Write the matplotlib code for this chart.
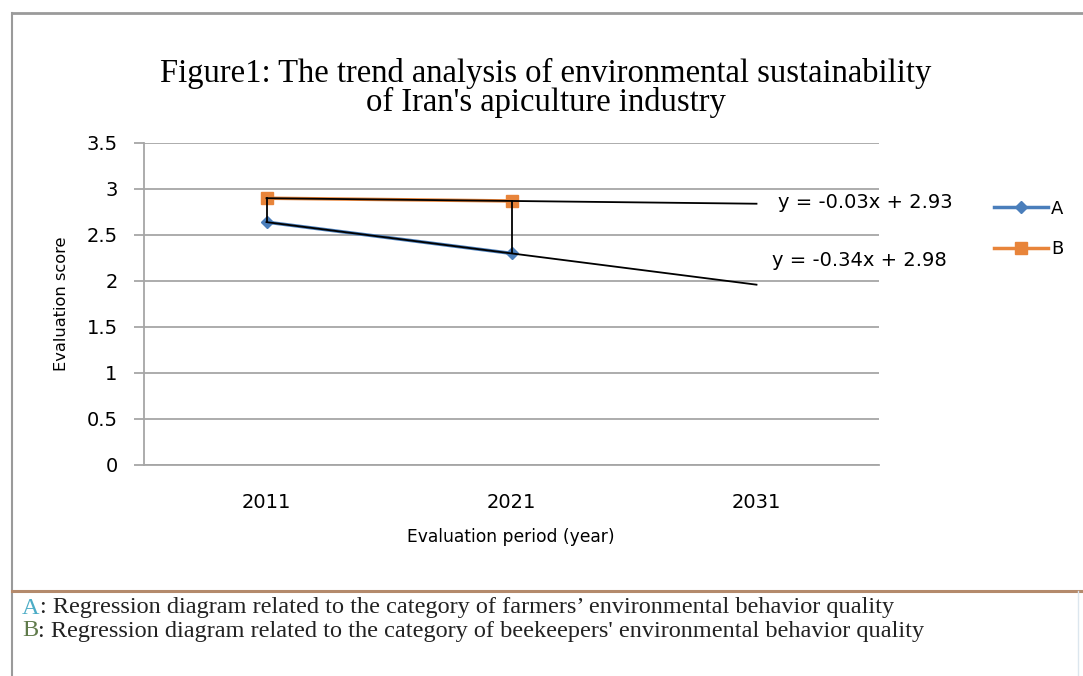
import matplotlib
matplotlib.use("Agg")
import matplotlib.pyplot as plt
from matplotlib.lines import Line2D

# Evaluation periods and mean scores of the two categories
periods = ["2011", "2021", "2031"]
scores_a = [2.64, 2.30]
scores_b = [2.90, 2.87]

# Linear trend coefficients (y = slope * x + intercept), x = period index from 1
slope_a, icpt_a = -0.34, 2.98
slope_b, icpt_b = -0.03, 2.93

blue = "#4a7ebb"
orange = "#e8843a"
grey = "#a6a6a6"
sans = "DejaVu Sans"
serif = "Liberation Serif"

W, H = 1083, 676
fig = plt.figure(figsize=(W / 100, H / 100), dpi=100)


def fx(px):
    return px / W


def fy(py):
    return 1 - py / H


ax = fig.add_axes((fx(144), fy(465), fx(879) - fx(144), fy(143) - fy(465)))

xs = list(range(1, len(scores_a) + 1))
ax.plot(xs, scores_a, color=blue, lw=2.5, marker="D", ms=6, zorder=2)
ax.plot(xs, scores_b, color=orange, lw=2.5, marker="s", ms=8, zorder=2)

# high-low lines between the two series
for x, a, b in zip(xs, scores_a, scores_b):
    ax.plot([x, x], [a, b], color="black", lw=1.3, zorder=3)

# trend lines, projected one period ahead
tx = [1, len(periods)]
ax.plot(tx, [slope_a * t + icpt_a for t in tx], color="black", lw=1.3, zorder=4)
ax.plot(tx, [slope_b * t + icpt_b for t in tx], color="black", lw=1.3, zorder=4)

ax.text(3.087, 2.85, "y = -0.03x + 2.93", fontsize=14, family=sans, va="center")
ax.text(3.063, 2.22, "y = -0.34x + 2.98", fontsize=14, family=sans, va="center")

ax.set_xlim(0.5, len(periods) + 0.5)
ax.set_ylim(0, 3.5)
ax.set_xticks(range(1, len(periods) + 1))
ax.set_xticklabels(periods, fontsize=14, family=sans)
ax.set_yticks([0, 0.5, 1, 1.5, 2, 2.5, 3, 3.5])
ax.set_yticklabels(["0", "0.5", "1", "1.5", "2", "2.5", "3", "3.5"], fontsize=14, family=sans)
ax.tick_params(axis="x", length=0, pad=20)
ax.tick_params(axis="y", length=7, color=grey, width=1.3, pad=12)
ax.yaxis.grid(True, color=grey, lw=1.3)
ax.set_axisbelow(True)
for side in ["top", "right"]:
    ax.spines[side].set_visible(False)
for side in ["left", "bottom"]:
    ax.spines[side].set_color(grey)
    ax.spines[side].set_linewidth(1.3)

fig.text(fx(511), fy(537), "Evaluation period (year)", fontsize=12.3, family=sans, ha="center", va="center")
fig.text(fx(62), fy(304), "Evaluation score", fontsize=11.7, family=sans, ha="center", va="center", rotation=90)

fig.text(fx(546), fy(88), "Figure1: The trend analysis of environmental sustainability\nof Iran's apiculture industry",
         fontsize=23.5, family=serif, ha="center", va="center", linespacing=0.9)

handles = [Line2D([], [], color=blue, lw=2.5, marker="D", ms=6),
           Line2D([], [], color=orange, lw=2.5, marker="s", ms=8)]
fig.legend(handles, ["A", "B"], loc="center left", bbox_to_anchor=(fx(978), fy(229)),
           frameon=False, handlelength=3.0, handletextpad=0.15,
           labelspacing=1.25, prop={"family": sans, "size": 13})

# frame around the chart and the notes box below it
fig.add_artist(Line2D([fx(12), 1], [fy(13), fy(13)], color="#9a9a9a", lw=2))
fig.add_artist(Line2D([fx(12), fx(12)], [fy(13), 0], color="#9a9a9a", lw=1.5))
fig.add_artist(Line2D([fx(12), 1], [fy(591), fy(591)], color="#b48a6c", lw=2.2))
fig.add_artist(Line2D([fx(1078), fx(1078)], [fy(591), 0], color="#dce6ee", lw=1))

notes = [("A", "#4bacc6", ": Regression diagram related to the category of farmers\u2019 environmental behavior quality"),
         ("B", "#5f7a4a", ": Regression diagram related to the category of beekeepers' environmental behavior quality")]
for i, (key, col, rest) in enumerate(notes):
    y = fy(608 + 23 * i)
    t = fig.text(fx(22), y, key, fontsize=17.5, family=serif, color=col, va="center")
    fig.canvas.draw()
    bb = t.get_window_extent()
    fig.text(bb.x1 / W, y, rest, fontsize=17.5, family=serif, color="#222222", va="center")

fig.savefig("out.png", dpi=100)
